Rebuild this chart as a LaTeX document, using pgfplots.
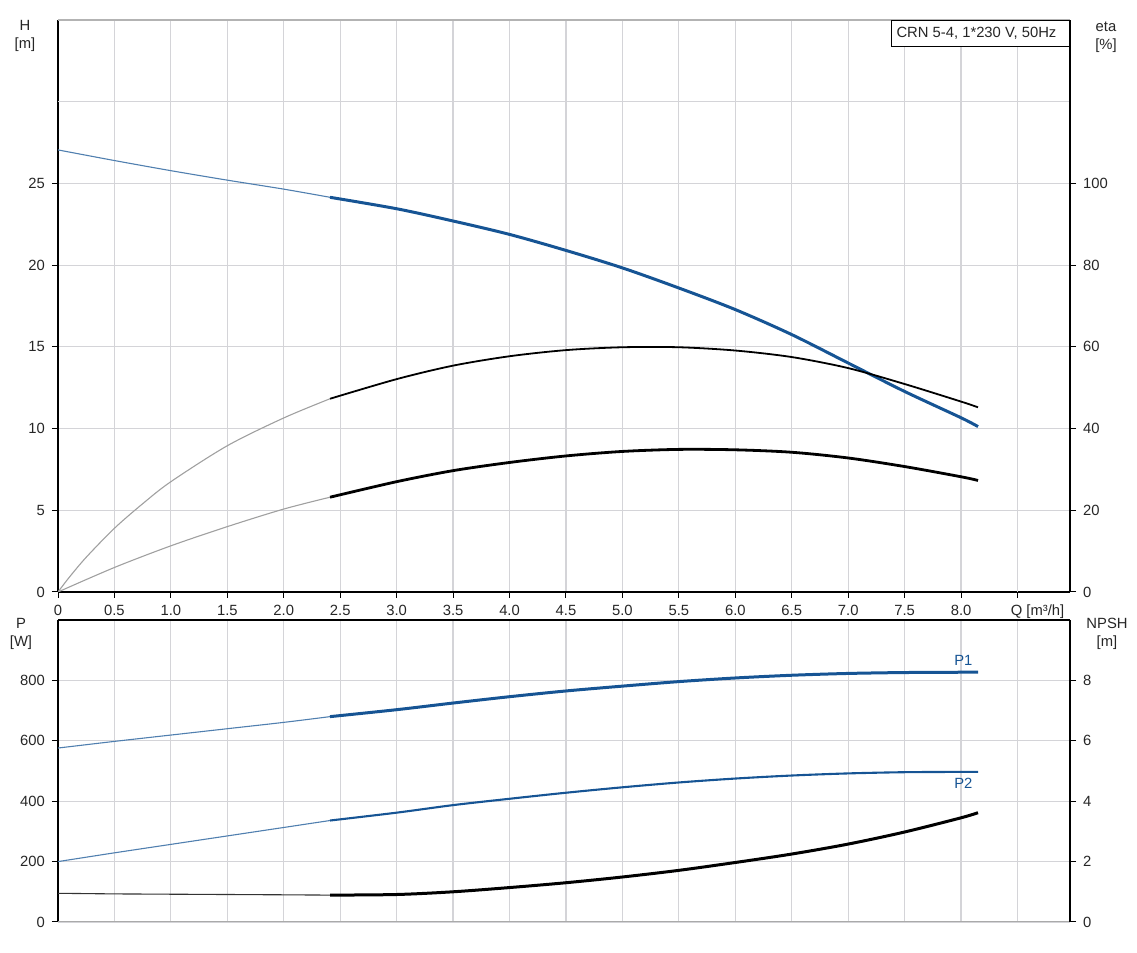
\documentclass[border=0pt]{standalone}
\usepackage{pgfplots}
\pgfplotsset{compat=1.18}
\usepackage{fontspec}
\setmainfont{Liberation Sans}
\definecolor{cblue}{RGB}{22,84,148}
\definecolor{gridc}{RGB}{212,212,216}
\definecolor{thing}{RGB}{160,160,160}

\pgfplotstableread{
q h
0 27.05
0.5 26.40
1.0 25.78
1.5 25.20
2.0 24.65
2.41 24.15
}\Hthin
\pgfplotstableread{
q h
2.41 24.15
3.0 23.45
3.5 22.70
4.0 21.88
4.5 20.90
5.0 19.83
5.5 18.60
6.0 17.28
6.5 15.75
7.0 14.01
7.5 12.27
8.0 10.66
8.15 10.12
}\Hthick
\pgfplotstableread{
q e
0 0
0.1 3.6
0.25 8.5
0.5 15.6
0.75 21.6
1.0 27.0
1.5 35.8
2.0 42.6
2.41 47.3
}\EAthin
\pgfplotstableread{
q e
2.41 47.3
3.0 52.1
3.5 55.4
4.0 57.7
4.5 59.2
5.0 59.9
5.5 59.9
6.0 59.1
6.5 57.5
7.0 54.8
7.5 50.9
8.0 46.6
8.15 45.2
}\EAthick
\pgfplotstableread{
q e
0 0
0.5 6.0
1.0 11.3
1.5 16.0
2.0 20.3
2.41 23.2
}\EBthin
\pgfplotstableread{
q e
2.41 23.2
3.0 27.0
3.5 29.7
4.0 31.7
4.5 33.3
5.0 34.4
5.5 34.9
6.0 34.8
6.5 34.2
7.0 32.8
7.5 30.7
8.0 28.2
8.15 27.3
}\EBthick
\pgfplotstableread{
q p
0 576
0.5 598
1.0 619
1.5 640
2.0 661
2.41 680
}\PAthin
\pgfplotstableread{
q p
2.41 680
3.0 703
3.5 725
4.0 746
4.5 765
5.0 781
5.5 796
6.0 808
6.5 817
7.0 823
7.5 826
8.0 827
8.15 827
}\PAthick
\pgfplotstableread{
q p
0 200
0.5 229
1.0 257
1.5 285
2.0 313
2.41 336
}\PBthin
\pgfplotstableread{
q p
2.41 336
3.0 362
3.5 387
4.0 408
4.5 428
5.0 446
5.5 462
6.0 475
6.5 485
7.0 492
7.5 496
8.0 497
8.15 497
}\PBthick
\pgfplotstableread{
q n
0 0.95
0.5 0.93
1.0 0.92
1.5 0.91
2.0 0.90
2.41 0.89
}\Nthin
\pgfplotstableread{
q n
2.41 0.89
3.0 0.91
3.5 1.00
4.0 1.14
4.5 1.30
5.0 1.49
5.5 1.71
6.0 1.97
6.5 2.25
7.0 2.58
7.5 2.98
8.0 3.45
8.15 3.62
}\Nthick

\pgfplotsset{
  base/.style={scale only axis, width=506pt, xmin=0, xmax=8.965,
    tick align=outside, major tick length=3pt,
    tick style={black, line width=0.5pt},
    tick label style={font=\fontsize{7.4}{9}\selectfont, text=black!85},
    /pgf/number format/assume math mode=true,
    axis line style={-, black, line width=0.7pt},
    grid style={gridc, line width=0.6pt},
  },
  thinblk/.style={thing, line width=0.55pt, smooth},
  thinblu/.style={cblue!75, line width=0.55pt, smooth},
}

\begin{document}
\begin{tikzpicture}
\path[use as bounding box] (0,0) rectangle (568.5pt,476.5pt);
\def\lab{\fontsize{7.4}{9}\selectfont}

% ---------- top axis (H) ----------
\begin{axis}[base, at={(29pt,180.5pt)}, anchor=south west, height=286pt,
  ymin=0, ymax=35, ytick={0,5,10,15,20,25},
  extra y ticks={30}, extra y tick labels={},
  extra y tick style={major tick length=0pt, tick style={draw=none}},
  xtick={0,0.5,1,1.5,2,2.5,3,3.5,4,4.5,5,5.5,6,6.5,7,7.5,8},
  xticklabels={0,0.5,1.0,1.5,2.0,2.5,3.0,3.5,4.0,4.5,5.0,5.5,6.0,6.5,7.0,7.5,8.0},
  extra x ticks={8.5}, extra x tick labels={Q [m³/h]},
  extra x tick style={tick label style={xshift=10pt}},
  grid=major,
  axis x line*=bottom, axis y line*=left]
  \draw[thing!80, line width=0.7pt] (rel axis cs:0,1) -- (rel axis cs:1,1);
  \addplot[thinblu] table[x=q,y=h] {\Hthin};
  \addplot[cblue, line width=1.5pt, smooth] table[x=q,y=h] {\Hthick};
\end{axis}
\begin{axis}[base, at={(29pt,180.5pt)}, anchor=south west, height=286pt,
  ymin=0, ymax=140, ytick={0,20,40,60,80,100},
  axis y line*=right, axis x line=none]
  \addplot[thinblk] table[x=q,y=e] {\EAthin};
  \addplot[black, line width=0.9pt, smooth] table[x=q,y=e] {\EAthick};
  \addplot[thinblk] table[x=q,y=e] {\EBthin};
  \addplot[black, line width=1.4pt, smooth] table[x=q,y=e] {\EBthick};
  \node[draw=black, line width=0.5pt, fill=white, anchor=north east, inner xsep=2.5pt,
    minimum height=12pt, font=\lab, text=black!85] at (rel axis cs:1,1) {\makebox[84pt][l]{CRN 5-4, 1*230 V, 50Hz}};
\end{axis}

% ---------- bottom axis (P) ----------
\begin{axis}[base, at={(29pt,15.5pt)}, anchor=south west, height=151pt,
  ymin=0, ymax=1000, ytick={0,200,400,600,800},
  xtick={0.5,1,1.5,2,2.5,3,3.5,4,4.5,5,5.5,6,6.5,7,7.5,8,8.5}, xticklabels={},
  xtick style={draw=none},
  grid=major,
  axis x line*=top, axis y line*=left]
  \draw[thing!90, line width=1pt] (rel axis cs:0,0) -- (rel axis cs:1,0);
  \addplot[thinblu] table[x=q,y=p] {\PAthin};
  \addplot[cblue, line width=1.5pt, smooth] table[x=q,y=p] {\PAthick};
  \addplot[thinblu] table[x=q,y=p] {\PBthin};
  \addplot[cblue, line width=1.05pt, smooth] table[x=q,y=p] {\PBthick};
  \node[font=\lab, text=cblue] at (axis cs:8.02,866) {P1};
  \node[font=\lab, text=cblue] at (axis cs:8.02,460) {P2};
\end{axis}
\begin{axis}[base, at={(29pt,15.5pt)}, anchor=south west, height=151pt,
  ymin=0, ymax=10, ytick={0,2,4,6,8},
  axis y line*=right, axis x line=none]
  \addplot[black!80, line width=0.55pt] table[x=q,y=n] {\Nthin};
  \addplot[black, line width=1.5pt, smooth] table[x=q,y=n] {\Nthick};
\end{axis}

% ---------- axis titles ----------
\node[font=\lab, align=center, text=black!85] at (12.5pt,458.5pt) {H\\{}[m]};
\node[font=\lab, align=center, text=black!85] at (553pt,458pt) {eta\\{}[\%]};
\node[font=\lab, align=center, text=black!85] at (10.5pt,159.5pt) {P\\{}[W]};
\node[font=\lab, align=center, text=black!85] at (553.5pt,159.5pt) {NPSH\\{}[m]};
\end{tikzpicture}
\end{document}
